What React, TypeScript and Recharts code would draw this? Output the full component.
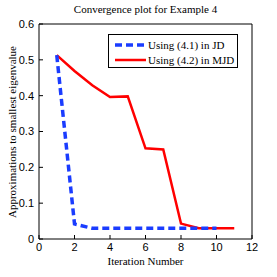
import React from "react";
import {
  LineChart,
  Line,
  XAxis,
  YAxis,
} from "recharts";

// values
const iterJD = [1, 2, 3, 4, 5, 6, 7, 8, 9, 10];
const valuesJD = [0.513, 0.042, 0.03, 0.03, 0.03, 0.03, 0.03, 0.03, 0.03, 0.03];
const iterMJD = [1, 2, 3, 4, 5, 6, 7, 8, 9, 10, 11];
const valuesMJD = [0.513, 0.469, 0.429, 0.396, 0.398, 0.253, 0.25, 0.043, 0.03, 0.03, 0.03];
const xTicks = [0, 2, 4, 6, 8, 10, 12];
const yTicks = [0, 0.1, 0.2, 0.3, 0.4, 0.5, 0.6];
const seriesNames = ["Using (4.1) in JD", "Using (4.2) in MJD"];

const jdData = iterJD.map((x, i) => ({ x, y: valuesJD[i] }));
const mjdData = iterMJD.map((x, i) => ({ x, y: valuesMJD[i] }));

const serif = "'Liberation Serif', 'Times New Roman', serif";
const sans = "'Liberation Sans', Arial, sans-serif";

const LegendBox: React.FC = () => (
  <div
    style={{
      position: "absolute",
      left: 108,
      top: 34,
      border: "1px solid #000",
      background: "#fff",
      width: 130,
      height: 34,
      boxSizing: "border-box",
      fontFamily: serif,
      fontSize: 11,
      color: "#000",
      padding: "2px 0 0 6px",
      whiteSpace: "nowrap",
    }}
  >
    <div style={{ display: "flex", alignItems: "center", height: 15 }}>
      <svg width={31} height={6}>
        <line x1={0} y1={3} x2={31} y2={3} stroke="#1a3cff" strokeWidth={3.5} strokeDasharray="7 4" />
      </svg>
      <span style={{ marginLeft: 2 }}>{seriesNames[0]}</span>
    </div>
    <div style={{ display: "flex", alignItems: "center", height: 15 }}>
      <svg width={31} height={6}>
        <line x1={0} y1={3} x2={31} y2={3} stroke="#ff0000" strokeWidth={2.5} />
      </svg>
      <span style={{ marginLeft: 2 }}>{seriesNames[1]}</span>
    </div>
  </div>
);

export default function App() {
  return (
    <div style={{ position: "absolute", left: 0, top: 0, width: 277, height: 277, background: "#fff" }}>
      <div
        style={{
          position: "absolute",
          top: 3,
          left: 39,
          width: 213,
          textAlign: "center",
          fontFamily: serif,
          fontSize: 11,
        }}
      >
        Convergence plot for Example 4
      </div>
      <div
        style={{
          position: "absolute",
          top: 255,
          left: 39,
          width: 213,
          textAlign: "center",
          fontFamily: serif,
          fontSize: 11,
        }}
      >
        Iteration Number
      </div>
      <div
        style={{
          position: "absolute",
          left: 12,
          top: 132,
          transform: "translate(-50%, -50%) rotate(-90deg)",
          whiteSpace: "nowrap",
          fontFamily: serif,
          fontSize: 11,
        }}
      >
        Approximations to smallest eigenvalue
      </div>
      <LineChart
        width={277}
        height={277}
        margin={{ top: 23, right: 24, left: 38, bottom: 37 }}
        style={{ position: "absolute", left: 0, top: 0 }}
      >
        <XAxis
          xAxisId="b"
          dataKey="x"
          type="number"
          domain={[0, 12]}
          ticks={xTicks}
          height={1}
          stroke="#000"
          axisLine={{ stroke: "#000" }}
          tickSize={-4}
          tickMargin={8}
          tick={{ fill: "#000", fontSize: 11, fontFamily: sans }}
          allowDataOverflow
        />
        <XAxis
          xAxisId="t"
          orientation="top"
          type="number"
          domain={[0, 12]}
          ticks={xTicks}
          height={1}
          stroke="#000"
          axisLine={{ stroke: "#000" }}
          tickSize={-4}
          tickFormatter={() => ""}
        />
        <YAxis
          yAxisId="l"
          type="number"
          domain={[0, 0.6]}
          ticks={yTicks}
          width={1}
          stroke="#000"
          axisLine={{ stroke: "#000" }}
          tickSize={-4}
          tickMargin={9}
          tickFormatter={(v: number) => (v === 0 ? "0" : String(v))}
          tick={{ fill: "#000", fontSize: 11, fontFamily: sans }}
          allowDataOverflow
        />
        <YAxis
          yAxisId="r"
          orientation="right"
          type="number"
          domain={[0, 0.6]}
          ticks={yTicks}
          width={1}
          stroke="#000"
          axisLine={{ stroke: "#000" }}
          tickSize={-4}
          tickFormatter={() => ""}
        />
        <Line
          xAxisId="b"
          yAxisId="l"
          data={mjdData}
          dataKey="y"
          stroke="#ff0000"
          strokeWidth={2.5}
          dot={false}
          isAnimationActive={false}
          type="linear"
        />
        <Line
          xAxisId="b"
          yAxisId="l"
          data={jdData}
          dataKey="y"
          stroke="#1a3cff"
          strokeWidth={3.5}
          strokeDasharray="7 4"
          dot={false}
          isAnimationActive={false}
          type="linear"
        />
      </LineChart>
      <LegendBox />
    </div>
  );
}
